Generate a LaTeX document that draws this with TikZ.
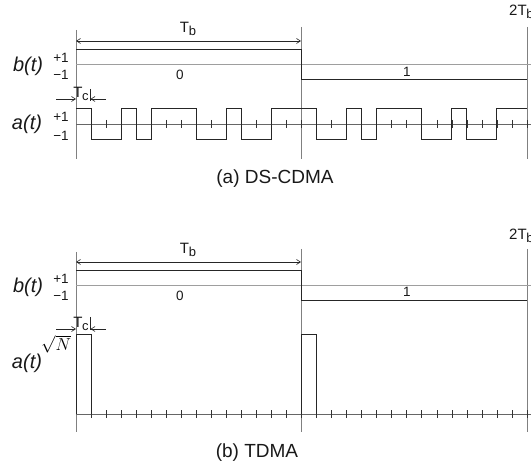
\documentclass[tikz,border=0pt]{standalone}
\usepackage{fontspec}
\setmainfont{Liberation Sans}
\usetikzlibrary{arrows.meta}
\newcommand\TT[1]{T\kern-0.3pt{\fontsize{13}{13}\selectfont\raisebox{-3pt}{#1}}}
\begin{document}
\begin{tikzpicture}[x=1pt,y=-1pt,
  axis/.style={draw=black!50, line width=0.6pt},
  wave/.style={draw=black!85, line width=1pt},
  zero/.style={draw=black!38, line width=1pt},
  base/.style={draw=black!60, line width=0.7pt},
  tck/.style={draw=black!80, line width=0.6pt},
  barb/.tip={Straight Barb[length=4pt,width=5pt]},
  dim/.style={draw=black!85, line width=0.6pt},
  lab/.style={font=\fontsize{20}{22}\selectfont\itshape, inner sep=0pt, text=black!90},
  lvl/.style={font=\fontsize{13.5}{14}\selectfont, inner sep=0pt, text=black!90},
  tl/.style={font=\fontsize{15}{15}\selectfont, inner sep=0pt, text=black!90},
  capt/.style={font=\fontsize{19}{22}\selectfont, inner sep=0pt, text=black!90}]
\useasboundingbox (0,0) rectangle (531,468);

% ================= (a) DS-CDMA =================
\draw[axis] (76,30) -- (76,159);
\draw[axis] (301,27) -- (301,159);
\draw[axis] (527,27) -- (527,159);
\node[tl, anchor=west] (tbb) at (509,12) {2\TT{b}};

\coordinate (tba) at (76,41); \coordinate (tbe) at (301,41);
\draw[dim, barb-barb] (tba) -- (tbe);
\node[tl] (tblab) at (188,29) {\TT{b}};

\draw[zero] (76,65) -- (531,65);
\draw[wave] (76,50) -- (301,50) -- (301,80) -- (527,80);
\node[lvl] (z0) at (180,75) {0};
\node[lvl] (o1) at (407,72) {1};
\node[lab] (bt) at (28,66) {b(t)};
\node[lvl] (p1) at (61,58) {+1};
\node[lvl] (m1) at (61,75) {\char"2212 1};

% Tc
\draw[dim] (90,89) -- (90,101);
\coordinate (tcl) at (56,99); \coordinate (tcr) at (106,99);
\coordinate (tcl2) at (76,99); \coordinate (tcr2) at (90.5,99);
\draw[dim, -barb] (tcl) -- (tcl2);
\draw[dim, -barb] (tcr) -- (tcr2);
\node[tl] (tc) at (81,94) {\TT{c}};

\node[lab] (at) at (27,124) {a(t)};
\node[lvl] (ap1) at (61,116.5) {+1};
\node[lvl] (am1) at (61,136) {\char"2212 1};

\draw[base] (76,124) -- (531,124);
\begin{scope}[xshift=76pt, x=15.0333pt]
  \foreach \k in {1,...,30} \draw[tck] (\k,120) -- (\k,128);
  \draw[wave] (0,109) -- (1,109) -- (1,140) -- (3,140) -- (3,109) -- (4,109) -- (4,140)
    -- (5,140) -- (5,109) -- (8,109) -- (8,140) -- (10,140) -- (10,109) -- (11,109)
    -- (11,140) -- (13,140) -- (13,109) -- (16,109) -- (16,140) -- (18,140) -- (18,109)
    -- (19,109) -- (19,140) -- (20,140) -- (20,109) -- (23,109) -- (23,140) -- (25,140)
    -- (25,109) -- (26,109) -- (26,140) -- (28,140) -- (28,109) -- (30,109);
\end{scope}

\node[capt] (capa) at (275,179) {(a) DS-CDMA};

% ================= (b) TDMA =================
\draw[axis] (76,252) -- (76,432);
\draw[axis] (301,249) -- (301,432);
\draw[axis] (527,249) -- (527,432);
\node[tl, anchor=west] (tbb2) at (509,236) {2\TT{b}};

\coordinate (tba2) at (76,262); \coordinate (tbe2) at (301,262);
\draw[dim, barb-barb] (tba2) -- (tbe2);
\node[tl] (tblab2) at (188,250) {\TT{b}};

\draw[zero] (76,286) -- (531,286);
\draw[wave] (76,271) -- (301,271) -- (301,301) -- (527,301);
\node[lvl] (z02) at (180,296) {0};
\node[lvl] (o12) at (407,292) {1};
\node[lab] (bt2) at (28,287) {b(t)};
\node[lvl] (p12) at (61,279) {+1};
\node[lvl] (m12) at (61,296) {\char"2212 1};

% Tc
\draw[dim] (90,317) -- (90,330);
\coordinate (tcl3) at (56,329); \coordinate (tcr3) at (106,329);
\coordinate (tcl4) at (76,329); \coordinate (tcr4) at (90.5,329);
\draw[dim, -barb] (tcl3) -- (tcl4);
\draw[dim, -barb] (tcr3) -- (tcr4);
\node[tl] (tc2) at (81,324) {\TT{c}};

\node[inner sep=0pt, font=\fontsize{17}{17}\selectfont] (sq) at (56,344) {$\sqrt{N}$};
\node[lab] (at2) at (27,363) {a(t)};

\draw[base] (76,414) -- (531,414);
\begin{scope}[xshift=76pt, x=15.0333pt]
  \foreach \k in {1,...,30} \draw[tck] (\k,410) -- (\k,418);
  \draw[wave] (0,414) -- (0,335) -- (1,335) -- (1,414);
  \draw[wave] (15,414) -- (15,335) -- (16,335) -- (16,414);
\end{scope}

\node[capt] (capb) at (257,453) {(b) TDMA};
\end{tikzpicture}
\end{document}
